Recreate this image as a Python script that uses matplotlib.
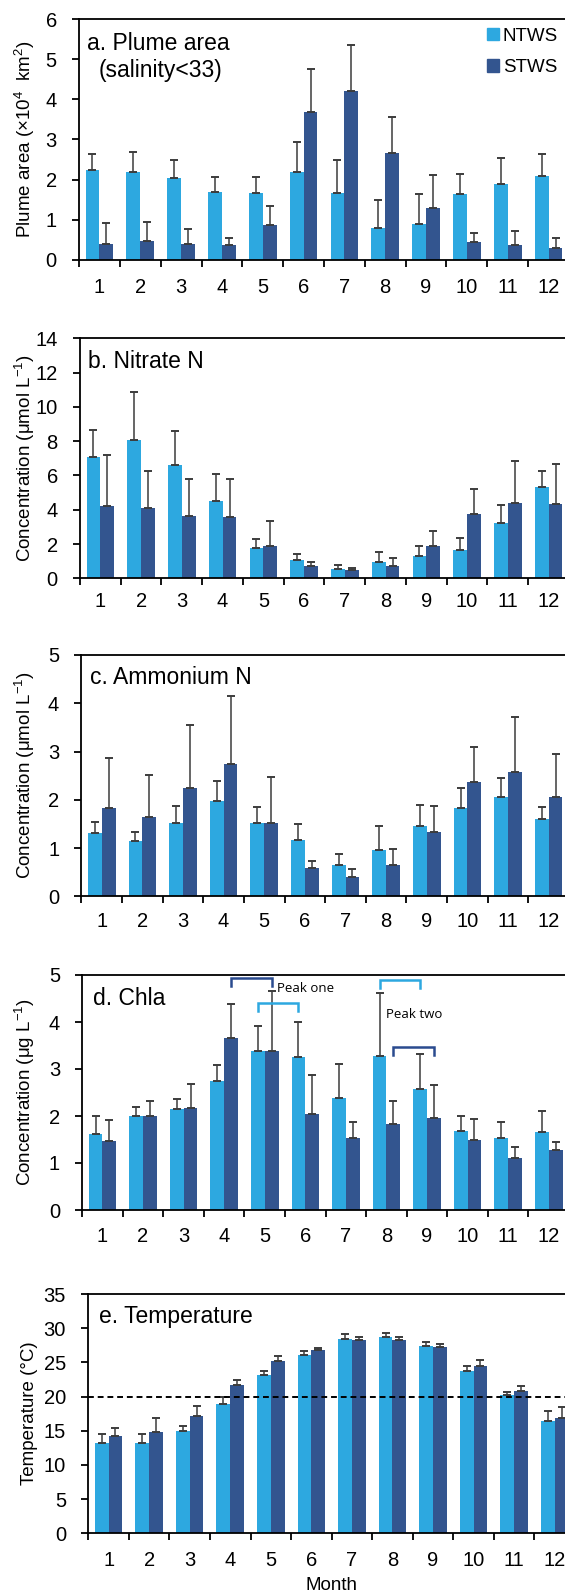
import numpy as np
import matplotlib
matplotlib.use("Agg")
import matplotlib.pyplot as plt
from matplotlib.patches import Patch
from matplotlib.ticker import FixedLocator, MultipleLocator

plt.rcParams['font.family'] = ['Liberation Sans', 'DejaVu Sans']
plt.rcParams['mathtext.fontset'] = 'custom'
plt.rcParams['mathtext.rm'] = 'Liberation Sans'
plt.rcParams['mathtext.it'] = 'Liberation Sans:italic'
plt.rcParams['mathtext.bf'] = 'Liberation Sans:bold'

months = np.arange(1, 13)
series_names = ["NTWS", "STWS"]

# a. plume area (x10^4 km2)
plume_ntws = [2.25, 2.20, 2.05, 1.70, 1.66, 2.20, 1.66, 0.78, 0.90, 1.65, 1.90, 2.10]
plume_ntws_sd = [0.40, 0.50, 0.45, 0.36, 0.40, 0.73, 0.84, 0.70, 0.74, 0.48, 0.63, 0.55]
plume_stws = [0.40, 0.47, 0.40, 0.36, 0.86, 3.68, 4.21, 2.66, 1.30, 0.43, 0.36, 0.28]
plume_stws_sd = [0.52, 0.47, 0.37, 0.19, 0.47, 1.09, 1.16, 0.91, 0.82, 0.24, 0.36, 0.26]

# b. nitrate N (umol/L)
no3_ntws = [7.10, 8.05, 6.61, 4.49, 1.75, 1.05, 0.52, 0.93, 1.28, 1.65, 3.25, 5.31]
no3_ntws_sd = [1.57, 2.82, 1.98, 1.58, 0.56, 0.39, 0.26, 0.63, 0.62, 0.72, 1.03, 0.97]
no3_stws = [4.24, 4.12, 3.66, 3.60, 1.87, 0.74, 0.47, 0.74, 1.87, 3.75, 4.37, 4.32]
no3_stws_sd = [2.93, 2.16, 2.15, 2.21, 1.45, 0.21, 0.11, 0.45, 0.87, 1.46, 2.45, 2.33]

# c. ammonium N (umol/L)
nh4_ntws = [1.32, 1.15, 1.51, 1.97, 1.52, 1.17, 0.64, 0.96, 1.46, 1.84, 2.05, 1.61]
nh4_ntws_sd = [0.22, 0.18, 0.37, 0.41, 0.33, 0.33, 0.24, 0.49, 0.43, 0.41, 0.41, 0.24]
nh4_stws = [1.84, 1.64, 2.24, 2.75, 1.51, 0.58, 0.41, 0.64, 1.34, 2.37, 2.58, 2.05]
nh4_stws_sd = [1.03, 0.88, 1.30, 1.41, 0.96, 0.16, 0.16, 0.33, 0.54, 0.72, 1.14, 0.89]

# d. chlorophyll a (ug/L)
chla_ntws = [1.62, 2.01, 2.14, 2.75, 3.39, 3.26, 2.38, 3.28, 2.57, 1.68, 1.53, 1.65]
chla_ntws_sd = [0.37, 0.19, 0.23, 0.34, 0.53, 0.75, 0.72, 1.34, 0.74, 0.31, 0.34, 0.45]
chla_stws = [1.47, 1.99, 2.18, 3.65, 3.39, 2.05, 1.54, 1.82, 1.96, 1.49, 1.11, 1.28]
chla_stws_sd = [0.44, 0.33, 0.51, 0.73, 1.27, 0.82, 0.33, 0.50, 0.69, 0.45, 0.22, 0.17]

# e. temperature (degC)
temp_ntws = [13.20, 13.20, 14.96, 18.87, 23.17, 26.15, 28.40, 28.69, 27.37, 23.80, 20.23, 16.47]
temp_ntws_sd = [1.27, 1.27, 0.73, 1.07, 0.58, 0.49, 0.68, 0.64, 0.68, 0.69, 0.44, 1.37]
temp_stws = [14.22, 14.81, 17.20, 21.65, 25.27, 26.78, 28.25, 28.25, 27.22, 24.49, 20.77, 16.91]
temp_stws_sd = [1.13, 2.10, 1.42, 0.83, 0.63, 0.35, 0.49, 0.49, 0.49, 0.83, 0.78, 1.56]

# chla peak brackets: (first month, last month, series index, height)
chla_peaks = [(4, 5, 1, 4.93), (5, 6, 0, 4.41), (8, 9, 0, 4.89), (8, 9, 1, 3.46)]

colors = ["#2DA8E0", "#33558F"]
bracket_colors = ["#2DA8E0", "#2A4B8F"]
W, H = 565, 1594
fig = plt.figure(figsize=(W / 100, H / 100), dpi=100)

panels = [
    dict(box=(79, 569, 19.3, 259.7), ymax=6, step=1, xpad=13,
         data=(plume_ntws, plume_ntws_sd, plume_stws, plume_stws_sd),
         ylabel="Plume area (\u00d710$^{4}$  km$^{2}$)", ylx=25,
         title="a. Plume area", tpos=(8, 31)),
    dict(box=(80, 569, 338.3, 578.3), ymax=14, step=2, xpad=10,
         data=(no3_ntws, no3_ntws_sd, no3_stws, no3_stws_sd),
         ylabel="Concentration (\u03bcmol L$^{-1}$)", ylx=25,
         title="b. Nitrate N", tpos=(8, 30)),
    dict(box=(81.4, 569, 655, 896.3), ymax=5, step=1, xpad=11,
         data=(nh4_ntws, nh4_ntws_sd, nh4_stws, nh4_stws_sd),
         ylabel="Concentration (\u03bcmol L$^{-1}$)", ylx=25,
         title="c. Ammonium N", tpos=(9, 29)),
    dict(box=(82.2, 569, 975, 1210), ymax=5, step=1, xpad=12,
         data=(chla_ntws, chla_ntws_sd, chla_stws, chla_stws_sd),
         ylabel="Concentration (\u03bcg L$^{-1}$)", ylx=25,
         title="d. Chla", tpos=(11, 30)),
    dict(box=(88.3, 575, 1294, 1533.3), ymax=35, step=5, xpad=12.5,
         data=(temp_ntws, temp_ntws_sd, temp_stws, temp_stws_sd),
         ylabel="Temperature (\u00b0C)", ylx=29,
         title="e. Temperature", tpos=(11, 29)),
]

width = 0.34
offsets = [-0.17, 0.17]
axes = []
for p in panels:
    l, r, t, b = p["box"]
    ax = fig.add_axes([l / W, 1 - b / H, (r - l) / W, (b - t) / H])
    axes.append(ax)
    n_mean, n_sd, s_mean, s_sd = p["data"]
    for k, (mean, sd) in enumerate([(n_mean, n_sd), (s_mean, s_sd)]):
        x = months + offsets[k]
        ax.bar(x, mean, width=width, color=colors[k], zorder=2,
               label=series_names[k])
        ax.errorbar(x, mean, yerr=[np.zeros(12), sd], fmt="none",
                    ecolor="#3c3c3c", elinewidth=1.1, capsize=2.6,
                    capthick=1.4, zorder=3)
    ax.set_xlim(0.5, 12.5)
    ax.set_ylim(0, p["ymax"])
    ax.yaxis.set_major_locator(MultipleLocator(p["step"]))
    ax.xaxis.set_major_locator(FixedLocator(months))
    ax.xaxis.set_minor_locator(FixedLocator(np.arange(0.5, 13, 1)))
    ax.tick_params(axis="x", which="major", length=0, pad=p["xpad"],
                   labelsize=14.5)
    ax.tick_params(axis="x", which="minor", length=5, width=1.3,
                   direction="out")
    ax.tick_params(axis="y", length=5, width=1.3, pad=11, labelsize=14.5)
    for side in ["left", "bottom", "top", "right"]:
        ax.spines[side].set_linewidth(1.3)
        ax.spines[side].set_color("black")
    ax.set_ylabel(p["ylabel"], fontsize=13.5, va="center")
    ax.yaxis.set_label_coords((p["ylx"] - l) / (r - l), 0.5)
    ax.annotate(p["title"], xy=(0, 1), xycoords="axes fraction",
                xytext=(p["tpos"][0], -p["tpos"][1]),
                textcoords="offset pixels", fontsize=16.5, va="baseline")

# second title line of the plume panel
axes[0].annotate("(salinity<33)", xy=(0, 1), xycoords="axes fraction",
                 xytext=(20, -58), textcoords="offset pixels",
                 fontsize=16.5, va="baseline")

handles = [Patch(color=c) for c in colors]
axes[0].legend(handles, series_names, loc="upper right",
               bbox_to_anchor=(558 / W, 1 - 28 / H),
               bbox_transform=fig.transFigure, frameon=False, fontsize=13.5,
               handlelength=0.62, handleheight=0.62, handletextpad=0.2,
               labelspacing=0.75, borderpad=0, borderaxespad=0)

# chla peak brackets
axd = axes[3]
for m0, m1, k, y in chla_peaks:
    x0 = m0 + offsets[k]
    x1 = m1 + offsets[k]
    axd.plot([x0, x0, x1, x1], [y - 0.17, y, y, y - 0.17],
             color=bracket_colors[k], lw=1.8,
             solid_joinstyle="miter", zorder=4, clip_on=False)
axd.text(5.3, 4.72, "Peak one", fontsize=9.5, family="Open Sans",
         va="center", ha="left")
axd.text(8.0, 4.15, "Peak two", fontsize=9.5, family="Open Sans",
         va="center", ha="left")

# 20 degree reference line
axes[4].axhline(20, color="black", lw=1.4, ls=(0, (3, 2)), zorder=4)
axes[4].set_xlabel("Month", fontsize=13.5, labelpad=5)

fig.savefig("out.png", dpi=100)
